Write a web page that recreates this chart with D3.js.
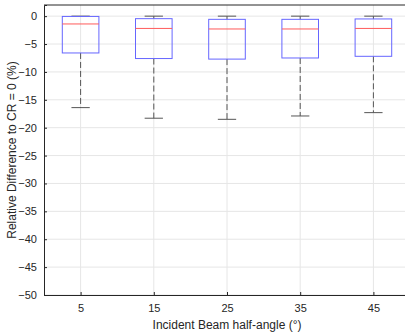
<!DOCTYPE html>
<html>
<head>
<meta charset="utf-8">
<script src="https://cdn.jsdelivr.net/npm/d3@7"></script>
<style>
body { margin: 0; background: #fff; }
svg { font-family: "Liberation Sans", Arial, sans-serif; }
</style>
</head>
<body>
<svg id="chart" width="405" height="334"></svg>
<script>
// incident beam half-angles
const angles = [5, 15, 25, 35, 45];
// box statistics (%)
const whiskerHigh = [0, 0, 0, 0, 0];
const q3 = [-0.05, -0.45, -0.57, -0.57, -0.5];
const median = [-1.4, -2.2, -2.3, -2.3, -2.2];
const q1 = [-6.6, -7.6, -7.7, -7.5, -7.2];
const whiskerLow = [-16.4, -18.3, -18.5, -17.9, -17.3];
const yTicks = [0, -5, -10, -15, -20, -25, -30, -35, -40, -45, -50];

const svg = d3.select('#chart');
const margin = {left: 44, top: 5, right: -5, bottom: 39};
const W = 405, H = 334;

const x = d3.scaleLinear().domain([0, 50]).range([margin.left, W - margin.right]);
const y = d3.scaleLinear().domain([-50, 2]).range([H - margin.bottom, margin.top]);

const axisColor = '#262626';

// grid
svg.append('g').selectAll('line').data(yTicks).join('line')
    .attr('x1', x(0)).attr('x2', x(50))
    .attr('y1', d => y(d)).attr('y2', d => y(d))
    .attr('stroke', '#e6e6e6');
svg.append('g').selectAll('line').data(angles).join('line')
    .attr('x1', d => x(d)).attr('x2', d => x(d))
    .attr('y1', y(-50)).attr('y2', y(2))
    .attr('stroke', '#e6e6e6');

const bw = 36.6 / 2;
const boxes = svg.append('g').selectAll('g').data(angles).join('g');

boxes.append('line')
    .attr('x1', d => x(d)).attr('x2', d => x(d))
    .attr('y1', (d, i) => y(q1[i])).attr('y2', (d, i) => y(whiskerLow[i]))
    .attr('stroke', '#555').attr('stroke-dasharray', '6,3');
boxes.append('line')
    .attr('x1', d => x(d)).attr('x2', d => x(d))
    .attr('y1', (d, i) => y(q3[i])).attr('y2', (d, i) => y(whiskerHigh[i]))
    .attr('stroke', '#555').attr('stroke-dasharray', '6,3');
boxes.append('line')
    .attr('x1', d => x(d) - bw / 2).attr('x2', d => x(d) + bw / 2)
    .attr('y1', (d, i) => y(whiskerLow[i])).attr('y2', (d, i) => y(whiskerLow[i]))
    .attr('stroke', '#555');
boxes.append('line')
    .attr('x1', d => x(d) - bw / 2).attr('x2', d => x(d) + bw / 2)
    .attr('y1', (d, i) => y(whiskerHigh[i])).attr('y2', (d, i) => y(whiskerHigh[i]))
    .attr('stroke', '#555');
boxes.append('rect')
    .attr('x', d => x(d) - bw).attr('width', bw * 2)
    .attr('y', (d, i) => y(q3[i])).attr('height', (d, i) => y(q1[i]) - y(q3[i]))
    .attr('fill', 'none').attr('stroke', '#6666ff');
boxes.append('line')
    .attr('x1', d => x(d) - bw).attr('x2', d => x(d) + bw)
    .attr('y1', (d, i) => y(median[i])).attr('y2', (d, i) => y(median[i]))
    .attr('stroke', '#ff5a5a');

// axes
const xAxis = svg.append('g')
    .attr('transform', `translate(0,${y(-50)})`)
    .call(d3.axisBottom(x).tickValues(angles).tickSize(-3).tickPadding(9));
const yAxis = svg.append('g')
    .attr('transform', `translate(${x(0)},0)`)
    .call(d3.axisLeft(y).tickValues(yTicks).tickSize(-3).tickPadding(7));
[xAxis, yAxis].forEach(a => {
    a.select('.domain').attr('stroke', axisColor);
    a.selectAll('.tick line').attr('stroke', axisColor);
    a.selectAll('.tick text').attr('fill', axisColor).attr('font-size', 11)
        .style('font-family', '"Liberation Sans", Arial, sans-serif');
});
svg.append('line')
    .attr('x1', x(0)).attr('x2', x(50))
    .attr('y1', y(2)).attr('y2', y(2))
    .attr('stroke', axisColor);

svg.append('text')
    .attr('x', (x(0) + x(50)) / 2).attr('y', 329)
    .attr('text-anchor', 'middle').attr('font-size', 12).attr('fill', axisColor)
    .text('Incident Beam half-angle (°)');
svg.append('text')
    .attr('transform', `translate(16,${(y(-50) + y(2)) / 2}) rotate(-90)`)
    .attr('text-anchor', 'middle').attr('font-size', 12).attr('fill', axisColor)
    .text('Relative Difference to CR = 0 (%)');
</script>
</body>
</html>
